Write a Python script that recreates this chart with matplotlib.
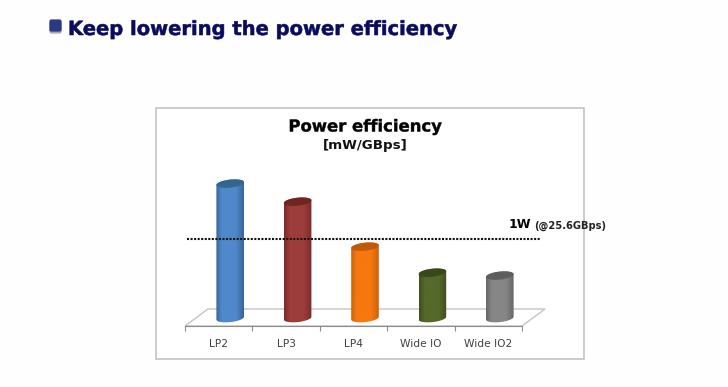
import matplotlib
matplotlib.use("Agg")
import matplotlib.pyplot as plt
import matplotlib.patheffects as pe
import numpy as np
from matplotlib.colors import LinearSegmentedColormap
from matplotlib.patches import FancyBboxPatch, PathPatch, Polygon, Rectangle
from matplotlib.path import Path
from matplotlib.transforms import blended_transform_factory

W, H = 728, 387

categories = ["LP2", "LP3", "LP4", "Wide IO", "Wide IO2"]
values = [66.1, 57.2, 35.1, 22.3, 20.9]
limit = 39.06  # 1W at 25.6GBps in mW/GBps
bar_colors = ["#5089cb", "#9c3d3b", "#f6780f", "#55692a", "#868686"]
edge_colors = ["#3a6596", "#7a2b29", "#cc6208", "#3d4f1d", "#666666"]
cap_colors = ["#33658f", "#702523", "#c05a08", "#38481a", "#5e5e5e"]

fig = plt.figure(figsize=(W / 100, H / 100), dpi=100, facecolor="#fefefe")


def px_axes(left, top, right, bottom):
    return fig.add_axes([left / W, 1 - bottom / H, (right - left) / W, (bottom - top) / H])


# page layer, in pixels
page = fig.add_axes([0, 0, 1, 1])
page.set_xlim(0, W)
page.set_ylim(H, 0)
page.axis("off")
page.add_patch(Rectangle((155.5, 107.5), 428, 251, fc="white", ec="#bdbdbd", lw=1.1))
page.add_patch(FancyBboxPatch((51, 23), 9, 9, boxstyle="round,pad=1.6,rounding_size=2",
                              fc="#a9a9b4", ec="none"))
page.add_patch(FancyBboxPatch((51, 21), 9, 9, boxstyle="round,pad=1.6,rounding_size=2",
                              fc="#2b3a85", ec="none"))
heading = page.text(68, 29.5, "Keep lowering the power efficiency", color="#0b0b5e",
                    fontsize=14.05, fontweight="bold", va="center", ha="left")
heading.set_path_effects([pe.Stroke(linewidth=0.4, foreground="#0b0b5e")])
title = page.text(365.5, 127, "Power efficiency", color="black", fontsize=11.85,
                  fontweight="bold", ha="center", va="center")
title.set_path_effects([pe.Stroke(linewidth=0.3, foreground="black")])
page.text(365.5, 146, "[mW/GBps]", color="#111111", fontsize=9.6,
          fontweight="bold", ha="center", va="center")
page.text(509, 225, "1W", color="black", fontsize=9, fontweight="bold", ha="left", va="center")
page.text(534, 225.5, "(@25.6GBps)", color="#222222", fontsize=7.1, fontweight="bold",
          ha="left", va="center")

# chart layer: x is the category slot, y is mW/GBps
ax = px_axes(185, 106, 522, 326)
ax.patch.set_alpha(0)
x = np.arange(len(categories))
px_per_unit = 2.035
ax.set_xlim(-0.5, 4.5)
ax.set_ylim(0, 220 / px_per_unit)
slot_px = 337 / 5
depth_x = 23 / slot_px
depth_y = 17 / px_per_unit

floor = Polygon([(-0.5, 0), (-0.5 + depth_x, depth_y), (4.5 + depth_x, depth_y), (4.5, 0)],
                closed=True, fc="white", ec="#c4c4c4", lw=1, clip_on=False, zorder=1)
ax.add_patch(floor)

half_w = 13.8 / slot_px
rim = 4 / px_per_unit
tilt = 1.4 / px_per_unit
base = depth_y / 2 - 0.3
t = np.linspace(0, np.pi, 40)

for xi, val, col, edge, cap in zip(x, values, bar_colors, edge_colors, cap_colors):
    cx = xi + depth_x / 2
    top = base + val
    cmap = LinearSegmentedColormap.from_list(
        "bar", [(0, edge), (0.2, col), (0.72, col), (1, edge)])
    img = ax.imshow(np.linspace(0, 1, 64)[None, :], cmap=cmap, aspect="auto", zorder=3,
                    extent=(cx - half_w, cx + half_w, base - rim - tilt, top + rim + tilt))
    # outline: lower arc left to right, then the back of the top rim
    lower_x = cx - half_w * np.cos(t)
    lower_y = base - rim * np.sin(t) + tilt * (-np.cos(t))
    upper_x = cx + half_w * np.cos(t)
    upper_y = top + rim * np.sin(t) + tilt * np.cos(t)
    body = np.column_stack([np.r_[lower_x, upper_x], np.r_[lower_y, upper_y]])
    img.set_clip_path(PathPatch(Path(np.vstack([body, body[:1]])), transform=ax.transData))
    cap_x = cx + half_w * np.cos(2 * t)
    cap_y = top + rim * np.sin(2 * t) + tilt * np.cos(2 * t)
    ax.add_patch(Polygon(np.column_stack([cap_x, cap_y]), closed=True, fc=cap, ec="none", zorder=4))

ax.set_xlim(-0.5, 4.5)
ax.set_ylim(0, 220 / px_per_unit)

# dotted 1W line, runs a little past the floor on the right
line_tf = blended_transform_factory(ax.transAxes, ax.transData)
ax.plot([0.006, 1.053], [base + limit] * 2, transform=line_tf, color="#111111", lw=1.5,
        ls=(0, (1, 0.7)), clip_on=False, zorder=6)

for side in ["left", "right", "top"]:
    ax.spines[side].set_visible(False)
ax.spines["bottom"].set_color("#8c8c8c")
ax.spines["bottom"].set_zorder(2)
ax.set_yticks([])
ax.set_xticks(x)
ax.set_xticklabels(categories, fontsize=7.7, color="#404040")
ax.set_xticks(np.arange(-0.5, 5), minor=True)
ax.tick_params(axis="x", which="major", length=0, pad=9.5)
ax.tick_params(axis="x", which="minor", length=3.5, width=0.8, color="#8c8c8c")

fig.savefig("out.png", dpi=100, facecolor=fig.get_facecolor())
